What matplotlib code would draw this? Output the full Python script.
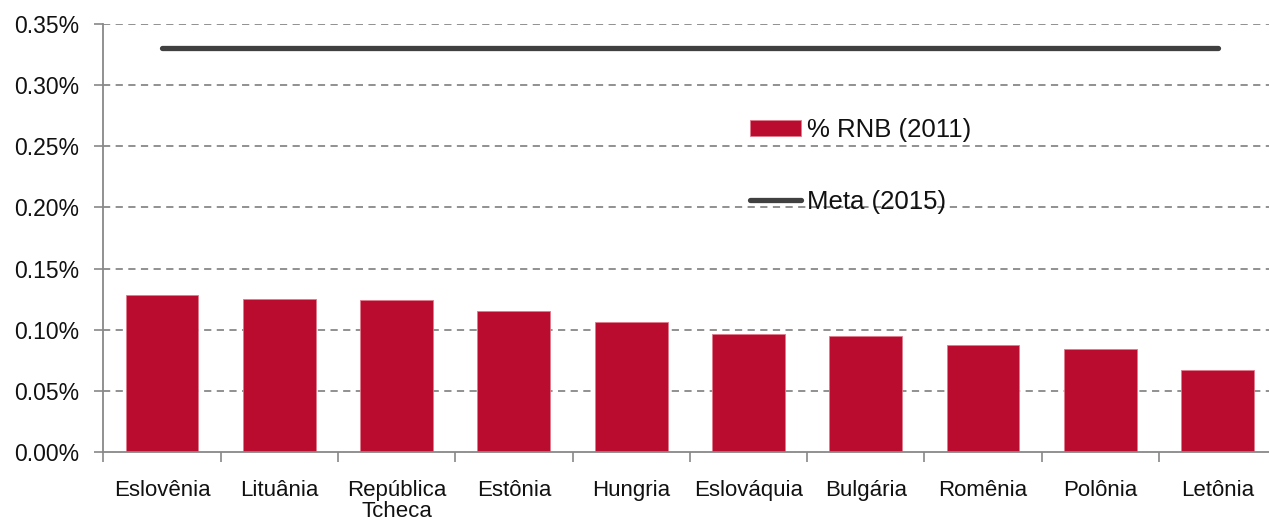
import matplotlib
matplotlib.use("Agg")
import matplotlib.pyplot as plt
import numpy as np
from matplotlib.ticker import FuncFormatter

paises = ["Eslovênia", "Lituânia", "República\nTcheca", "Estônia", "Hungria",
          "Eslováquia", "Bulgária", "Romênia", "Polônia", "Letônia"]
rnb_2011 = [0.1287, 0.1252, 0.1241, 0.1151, 0.1062, 0.0969, 0.0947, 0.0874, 0.0841, 0.0672]
meta_2015 = [0.33] * len(paises)
yticks = [0.0, 0.05, 0.10, 0.15, 0.20, 0.25, 0.30, 0.35]

plt.rcParams["font.family"] = ["Liberation Sans", "DejaVu Sans"]
W, H = 1269, 523
fig = plt.figure(figsize=(W / 100, H / 100), dpi=100)
ax = fig.add_axes([103.3 / W, 1 - 452.3 / H, 1173 / W, (452.3 - 23.7) / H])

x = np.arange(len(paises))
GRID = "#888888"
ax.set_axisbelow(True)
for v in yticks[1:]:
    ax.axhline(v, color=GRID, ls=(0, (4, 3)), lw=1.3, zorder=0)
barras = ax.bar(x, rnb_2011, width=0.62, color="#BA0C2F", edgecolor="#e07a8c", linewidth=0.6,
                label="% RNB (2011)", zorder=2)
linha, = ax.plot(x, meta_2015, color="#404040", lw=3.8, solid_capstyle="round",
                 label="Meta (2015)", zorder=3)

ax.set_xlim(-0.5, len(paises) - 0.5)
ax.set_ylim(0, 0.35)
ax.set_yticks(yticks)
ax.yaxis.set_major_formatter(FuncFormatter(lambda v, p: f"{v:.2f}%"))
ax.set_xticks(np.arange(len(paises) + 1) - 0.5)
ax.set_xticklabels([])
ax.set_xticks(x, minor=True)
ax.set_xticklabels(paises, minor=True, linespacing=1.0)
ax.tick_params(axis="x", which="major", length=7, color=GRID, width=1.2, direction="out")
ax.tick_params(axis="x", which="minor", length=0, pad=20, labelsize=16, colors="#111111")
ax.tick_params(axis="y", length=6.5, color=GRID, width=1.2, pad=11, labelsize=16.5, labelcolor="#111111")
for s in ["top", "right"]:
    ax.spines[s].set_visible(False)
for s in ["left", "bottom"]:
    ax.spines[s].set_color(GRID)
    ax.spines[s].set_linewidth(1.3)

leg = ax.legend([barras, linha], ["% RNB (2011)", "Meta (2015)"],
                loc="upper left", bbox_to_anchor=(750 / W, 1 - 118 / H),
                bbox_transform=fig.transFigure, frameon=False, fontsize=18.5,
                handlelength=2.0, handleheight=0.55, handletextpad=0.2,
                labelspacing=1.85, borderaxespad=0, borderpad=0)
for t in leg.get_texts():
    t.set_color("#111111")

fig.savefig("out.png", dpi=100)
